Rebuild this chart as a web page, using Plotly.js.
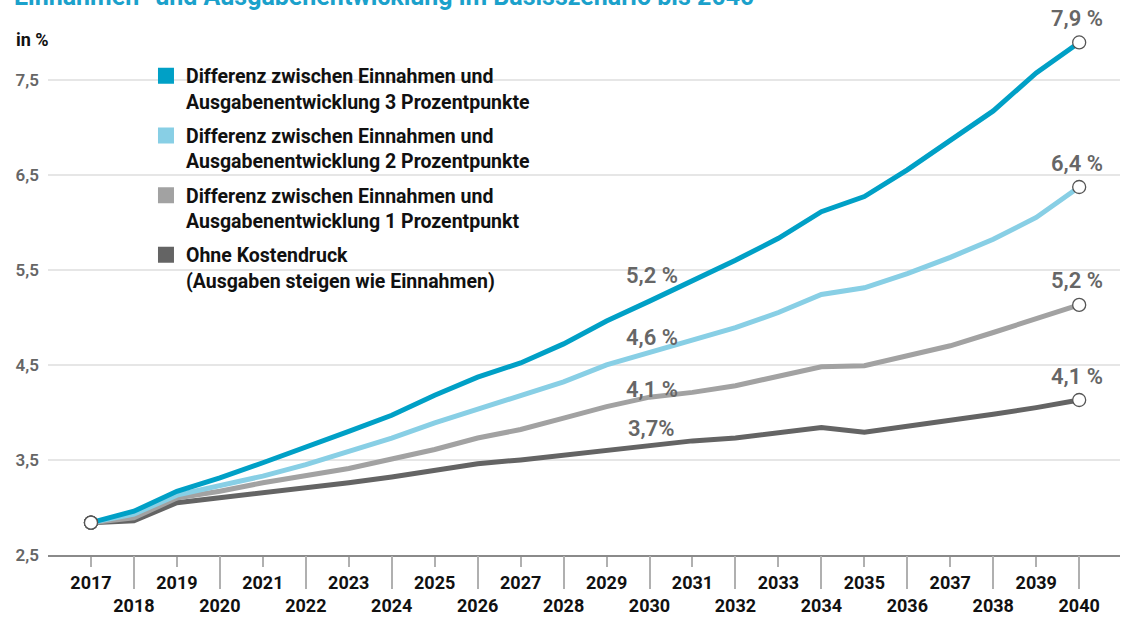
<!DOCTYPE html>
<html>
<head>
<meta charset="utf-8">
<script src="https://cdn.plot.ly/plotly-3.0.1.min.js"></script>
<style>html,body{margin:0;padding:0;background:#fff;}#chart{width:1133px;height:617px;}</style>
</head>
<body>
<div id="chart"></div>
<script>
const years = [2017,2018,2019,2020,2021,2022,2023,2024,2025,2026,2027,2028,2029,2030,2031,2032,2033,2034,2035,2036,2037,2038,2039,2040];
const diff3 = [2.84,2.96,3.17,3.31,3.47,3.63,3.80,3.97,4.18,4.37,4.52,4.72,4.96,5.17,5.38,5.60,5.83,6.11,6.27,6.55,6.86,7.17,7.57,7.89];
const diff2 = [2.84,2.93,3.13,3.23,3.33,3.45,3.59,3.73,3.89,4.03,4.17,4.32,4.50,4.63,4.76,4.89,5.05,5.24,5.31,5.46,5.63,5.82,6.05,6.37];
const diff1 = [2.84,2.89,3.10,3.17,3.26,3.33,3.41,3.51,3.61,3.73,3.82,3.94,4.06,4.16,4.21,4.28,4.38,4.48,4.49,4.59,4.70,4.84,4.98,5.13];
const ohne  = [2.84,2.86,3.05,3.10,3.16,3.20,3.26,3.32,3.39,3.46,3.50,3.55,3.61,3.65,3.70,3.73,3.78,3.84,3.79,3.85,3.91,3.98,4.05,4.13];

const seriesNames = [
  'Differenz zwischen Einnahmen und<br>Ausgabenentwicklung 3 Prozentpunkte',
  'Differenz zwischen Einnahmen und<br>Ausgabenentwicklung 2 Prozentpunkte',
  'Differenz zwischen Einnahmen und<br>Ausgabenentwicklung 1 Prozentpunkt',
  'Ohne Kostendruck<br>(Ausgaben steigen wie Einnahmen)'
];
const seriesColors = ['#00a0c6', '#88cfe5', '#a2a2a2', '#646464'];
const endLabels = ['7,9 %', '6,4 %', '5,2 %', '4,1 %'];
const midLabels = ['5,2 %', '4,6 %', '4,1 %', '3,7%'];
const midLabelYear = 2030;
const midLabelPos = [5.44, 4.79, 4.24, 3.83];

const yTicks = [2.5, 3.5, 4.5, 5.5, 6.5, 7.5];
const evenYears = years.filter(y => y % 2 === 0);
const xTickText = years.map(y => (y % 2 === 0 ? '<br>' + y : String(y)));

const allSeries = [diff3, diff2, diff1, ohne];
const FONT = 'Roboto, "Open Sans", "DejaVu Sans", sans-serif';

const traces = [];
for (let i = allSeries.length - 1; i >= 0; i--) {
  traces.push({
    x: years, y: allSeries[i], type: 'scatter', mode: 'lines',
    line: {color: seriesColors[i], width: 5},
    showlegend: false, hoverinfo: 'skip'
  });
}
for (let i = 0; i < allSeries.length; i++) {
  traces.push({
    x: [null], y: [null], type: 'scatter', mode: 'markers',
    name: seriesNames[i], legendgroup: 'g' + i,
    marker: {symbol: 'square', size: 16, color: seriesColors[i]},
    hoverinfo: 'skip'
  });
}
for (let i = 0; i < allSeries.length; i++) {
  const s = allSeries[i];
  traces.push({
    x: [years[0], years[years.length - 1]], y: [s[0], s[s.length - 1]],
    type: 'scatter', mode: 'markers', showlegend: false, hoverinfo: 'skip',
    marker: {symbol: 'circle', size: 13, color: '#ffffff', line: {color: '#555555', width: 1.3}}
  });
}
traces.push({x: years, y: ohne, xaxis: 'x2', type: 'scatter', mode: 'lines',
  line: {width: 0, color: 'rgba(0,0,0,0)'}, showlegend: false, hoverinfo: 'skip'});

const annotations = [];
for (let i = 0; i < allSeries.length; i++) {
  const s = allSeries[i];
  annotations.push({
    x: years[years.length - 1], y: s[s.length - 1], xref: 'x', yref: 'y',
    text: endLabels[i], showarrow: false, xanchor: 'center', yanchor: 'middle',
    xshift: -2, yshift: 24,
    font: {family: FONT, size: 22, color: '#666666', weight: 600}
  });
  annotations.push({
    x: midLabelYear, y: midLabelPos[i], xref: 'x', yref: 'y',
    text: midLabels[i], showarrow: false, xanchor: 'center', yanchor: 'middle',
    xshift: 2,
    font: {family: FONT, size: 22, color: '#666666', weight: 600}
  });
}
annotations.push({
  text: 'in %', xref: 'paper', yref: 'paper', x: -0.0317, y: 0.9856,
  xanchor: 'left', yanchor: 'middle', showarrow: false,
  font: {family: FONT, size: 18, color: '#111111', weight: 700}
});
annotations.push({
  text: 'Einnahmen- und Ausgabenentwicklung im Basisszenario bis 2040',
  xref: 'paper', yref: 'paper', x: -0.0336, y: 1.037,
  xanchor: 'left', yanchor: 'bottom', showarrow: false,
  font: {family: FONT, size: 25, color: '#1ba1cb', weight: 700}
});

const xRange = [2016, 2040.95];
const layout = {
  width: 1133, height: 617,
  margin: {l: 48, r: 13, t: 32, b: 62},
  paper_bgcolor: '#ffffff', plot_bgcolor: '#ffffff',
  separators: ',.',
  hovermode: false,
  showlegend: true,
  legend: {
    x: 0.0914, y: 0.953, xanchor: 'left', yanchor: 'top',
    bgcolor: 'rgba(255,255,255,0)', traceorder: 'grouped',
    valign: 'top', tracegroupgap: 6,
    font: {family: FONT, size: 19.5, color: '#111111', weight: 700}
  },
  xaxis: {
    range: xRange, tickvals: years, ticktext: xTickText, tickangle: 0,
    ticks: 'outside', ticklen: 10, tickwidth: 2, tickcolor: '#b0b0b0',
    showline: true, linecolor: '#8a8a8a', linewidth: 2,
    showgrid: false, zeroline: false, fixedrange: true,
    tickfont: {family: FONT, size: 18, color: '#111111', weight: 700}
  },
  xaxis2: {
    range: xRange, overlaying: 'x', anchor: 'y', side: 'bottom',
    tickvals: evenYears, ticks: 'outside', ticklen: 33, tickwidth: 2, tickcolor: '#b0b0b0',
    showticklabels: false, showline: false, showgrid: false, zeroline: false, fixedrange: true
  },
  yaxis: {
    range: [2.5, 8.0], tickvals: yTicks, tickformat: '.1f',
    showgrid: true, gridcolor: '#e6e6e6', gridwidth: 2,
    zeroline: false, showline: false, ticks: '', ticklabelstandoff: 8,
    fixedrange: true,
    tickfont: {family: FONT, size: 17, color: '#666666', weight: 600}
  },
  shapes: [{
    type: 'rect', xref: 'paper', yref: 'y', x0: 0.0616, x1: 0.4897, y0: 5.3, y1: 7.7,
    fillcolor: '#ffffff', line: {width: 0}, layer: 'between'
  }],
  annotations: annotations
};

Plotly.newPlot('chart', traces, layout, {displayModeBar: false, staticPlot: true});
</script>
</body>
</html>
